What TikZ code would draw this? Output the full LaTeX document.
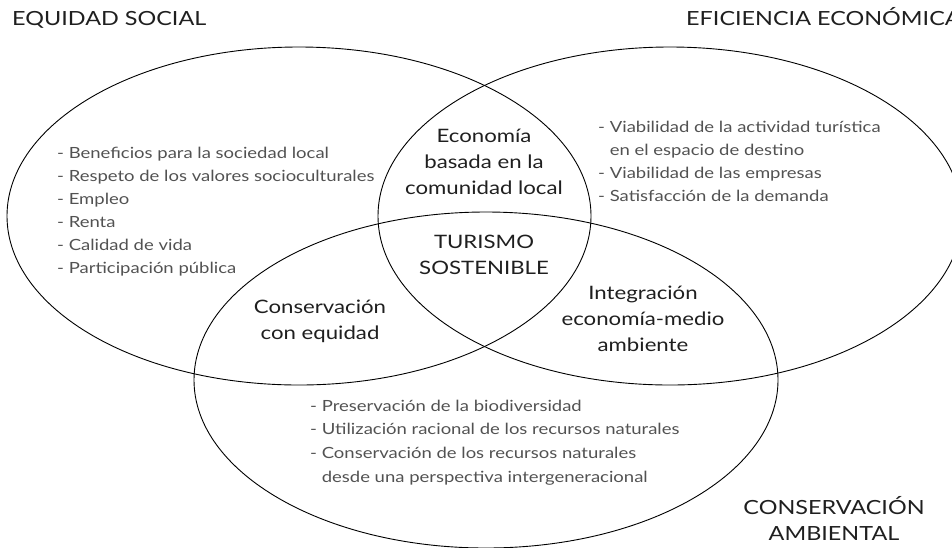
\documentclass[tikz,border=0pt]{standalone}
\usepackage{fontspec}
\setmainfont{Lato}[FakeStretch=1.2]
\usepackage{tikz}
\tikzset{
    TI/.style ={inner sep=0pt, text=black!88, font=\fontsize{19.5}{26}\selectfont, align=center},
    IN/.style ={inner sep=0pt, text=black!88, font=\fontsize{18.5}{25.7}\selectfont, align=center, anchor=base},
    LI/.style ={inner sep=0pt, text=black!68, font=\fontsize{15.4}{23}\selectfont, align=left, anchor=base west},
    EL/.style ={draw, line width=0.9pt}
}

\begin{document}
\begin{tikzpicture}[x=1pt,y=-1pt]
        \useasboundingbox (0,0) rectangle (952,547);
        \clip (0,0) rectangle (952,547);
        % the three circles
        \draw[EL] (299,216) ellipse [x radius=292pt, y radius=169pt];
        \draw[EL] (670,216) ellipse [x radius=292pt, y radius=169pt];
        \draw[EL] (486,380) ellipse [x radius=292pt, y radius=168pt];
        % titles
        \node[TI,anchor=base west] (eqs) at (12,25) {EQUIDAD SOCIAL};
        \node[TI,anchor=base west] (efe) at (686,25) {EFICIENCIA ECONÓMICA};
        \node[TI,anchor=base] (cam) at (834,540) {CONSERVACIÓN\\AMBIENTAL};
        % overlaps (base = last line)
        \node[IN] (eco) at (484,194) {Economía\\basada en la\\comunidad local};
        \node[IN] (tur) at (484,274.5) {TURISMO\\SOSTENIBLE};
        \node[IN] (ceq) at (320,339) {Conservación\\con equidad};
        \node[IN] (iem) at (643,351) {Integración\\economía-medio\\ambiente};
        % lists
        \node[LI] (lsoc) at (57,273) {- Beneficios para la sociedad local\\- Respeto de los valores socioculturales\\- Empleo\\- Renta\\- Calidad de vida\\- Participación pública};
        \node[LI] (leco) at (598,201) {- Viabilidad de la actividad turística\\\hphantom{- }en el espacio de destino\\- Viabilidad de las empresas\\- Satisfacción de la demanda};
        \node[LI,font=\fontsize{15.4}{23.6}\selectfont] (lamb) at (310,482) {- Preservación de la biodiversidad\\- Utilización racional de los recursos naturales\\- Conservación de los recursos naturales\\\hphantom{- }desde una perspectiva intergeneracional};
    \end{tikzpicture}
\end{document}
